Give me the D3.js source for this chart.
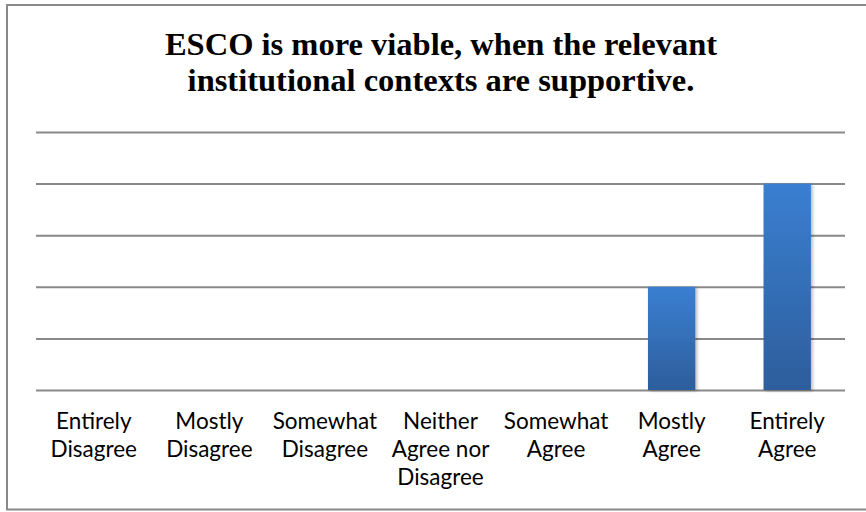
<!DOCTYPE html>
<html>
<head>
<meta charset="utf-8">
<script src="https://cdn.jsdelivr.net/npm/d3@7"></script>
<style>
  html, body { margin: 0; padding: 0; background: #fff; }
  svg { display: block; }
</style>
</head>
<body>
<svg id="chart" width="866" height="512"></svg>
<script>
const titleLines = ["ESCO is more viable, when the relevant", "institutional contexts are supportive."];
const categories = [
  "Entirely\nDisagree",
  "Mostly\nDisagree",
  "Somewhat\nDisagree",
  "Neither\nAgree nor\nDisagree",
  "Somewhat\nAgree",
  "Mostly\nAgree",
  "Entirely\nAgree"
];
const values = [0, 0, 0, 0, 0, 2, 4];
const yTicks = [0, 1, 2, 3, 4, 5];

const svg = d3.select("#chart");
const plot = { left: 36, right: 845, top: 132, bottom: 390 };

// outer border
svg.append("rect")
  .attr("x", 7).attr("y", 5).attr("width", 880).attr("height", 504.5)
  .attr("fill", "#fff").attr("stroke", "#898989").attr("stroke-width", 2);

const defs = svg.append("defs");
const grad = defs.append("linearGradient").attr("id", "barGrad")
  .attr("x1", 0).attr("y1", 0).attr("x2", 0).attr("y2", 1);
grad.append("stop").attr("offset", "0%").attr("stop-color", "#3a7fd1");
grad.append("stop").attr("offset", "100%").attr("stop-color", "#2d5e9c");

const shadow = defs.append("filter").attr("id", "shadow")
  .attr("x", "-20%").attr("y", "-5%").attr("width", "150%").attr("height", "115%");
shadow.append("feDropShadow").attr("dx", 2).attr("dy", 1).attr("stdDeviation", 1.5)
  .attr("flood-color", "#000").attr("flood-opacity", 0.25);

const x = d3.scaleBand()
  .domain(categories)
  .range([plot.left, plot.right])
  .paddingInner(0.59)
  .paddingOuter(0.295);

const y = d3.scaleLinear().domain([0, 5]).range([plot.bottom, plot.top]);

// gridlines
const yAxis = d3.axisLeft(y).tickValues(yTicks).tickSize(-(plot.right - plot.left)).tickFormat("");
const gy = svg.append("g").attr("transform", `translate(${plot.left},0)`).call(yAxis);
gy.select(".domain").remove();
gy.selectAll(".tick line").attr("stroke", "#898989").attr("stroke-width", 2);

// bars
svg.append("g").selectAll("rect")
  .data(categories.map((c, i) => ({ c, v: values[i] })).filter(d => d.v > 0))
  .join("rect")
  .attr("x", d => x(d.c))
  .attr("y", d => y(d.v))
  .attr("width", x.bandwidth())
  .attr("height", d => y(0) - y(d.v))
  .attr("fill", "url(#barGrad)")
  .attr("filter", "url(#shadow)");

// x axis labels
const xAxis = d3.axisBottom(x).tickSize(0).tickPadding(0);
const gx = svg.append("g").attr("transform", `translate(0,${plot.bottom})`).call(xAxis);
gx.select(".domain").remove();
gx.selectAll(".tick text").each(function(d) {
  const t = d3.select(this);
  t.text(null)
    .attr("y", 0)
    .attr("dy", null)
    .attr("fill", "#000")
    .style("font-family", "Lato, 'Open Sans', sans-serif")
    .style("font-size", "22.5px")
    .attr("text-anchor", "middle");
  d.split("\n").forEach((line, i) => {
    t.append("tspan").attr("x", 0).attr("y", 39 + i * 28).text(line);
  });
});

// title
const title = svg.append("text")
  .attr("text-anchor", "middle")
  .attr("fill", "#000")
  .style("font-family", "'Liberation Serif', 'Times New Roman', serif")
  .style("font-weight", "bold")
  .style("font-size", "32.5px");
titleLines.forEach((line, i) => {
  title.append("tspan").attr("x", 441).attr("y", 55 + i * 36).text(line);
});
</script>
</body>
</html>
